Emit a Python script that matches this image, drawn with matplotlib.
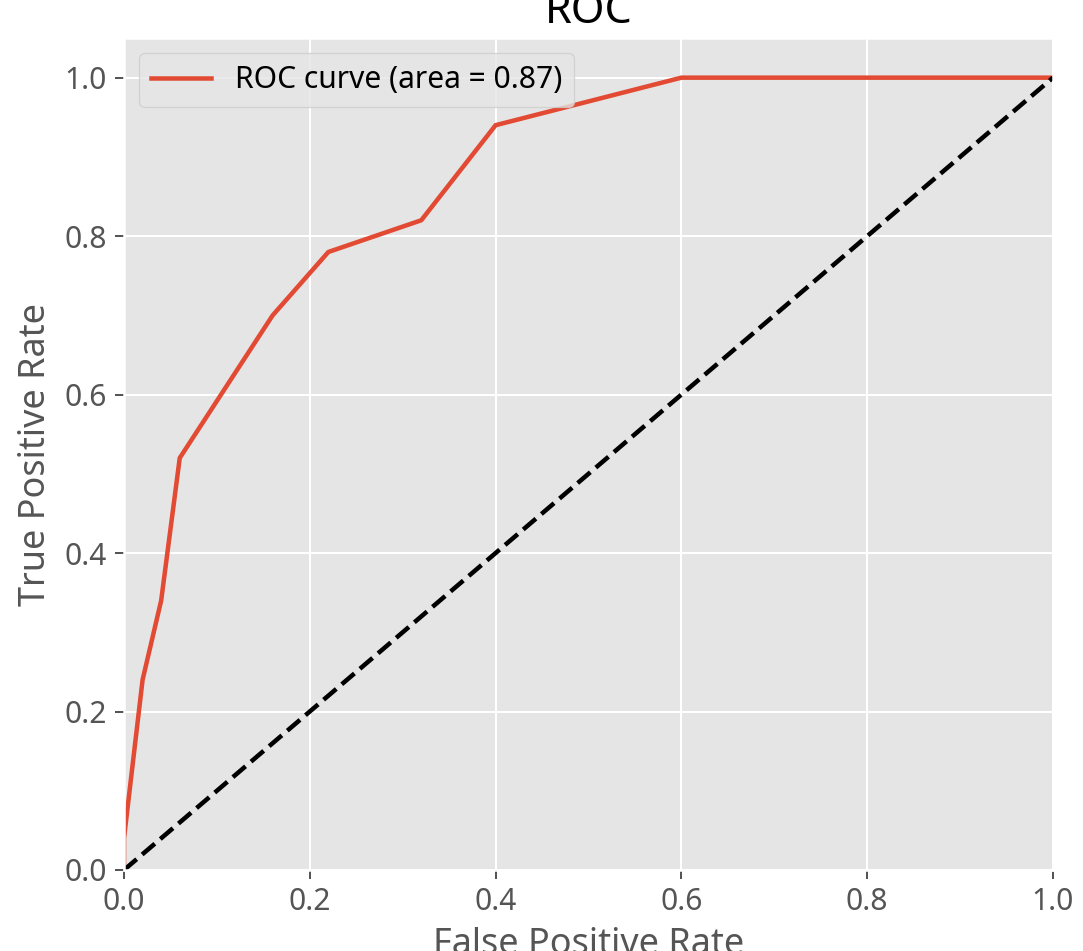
import matplotlib
matplotlib.use('Agg')
import matplotlib.pyplot as plt

plt.style.use('ggplot')
plt.rcParams['font.family'] = ['Noto Sans', 'DejaVu Sans']
plt.rcParams['font.size'] = 12

# ROC 曲线上的点
fpr = [0.0, 0.0, 0.02, 0.04, 0.06, 0.16, 0.22, 0.32, 0.40, 0.60, 1.0]
tpr = [0.0, 0.04, 0.24, 0.34, 0.52, 0.70, 0.78, 0.82, 0.94, 1.0, 1.0]
roc_auc = 0.87
diag = [0, 1]

fig = plt.figure(figsize=(1083 / 180, 951 / 180), dpi=180)
ax = fig.add_axes([0.1145, 0.0852, 0.8578, 0.8748])
ax.plot(fpr, tpr, lw=1.8, label='ROC curve (area = %0.2f)' % roc_auc)
ax.plot(diag, diag, 'k--', lw=1.8)  # 对角线
ax.set_xlim(0.0, 1.0)
ax.set_ylim(0.0, 1.05)
ax.set_xlabel('False Positive Rate')
ax.set_ylabel('True Positive Rate')
ax.set_title('ROC')
ax.legend(loc='upper left')
fig.savefig('out.png', dpi=180)
